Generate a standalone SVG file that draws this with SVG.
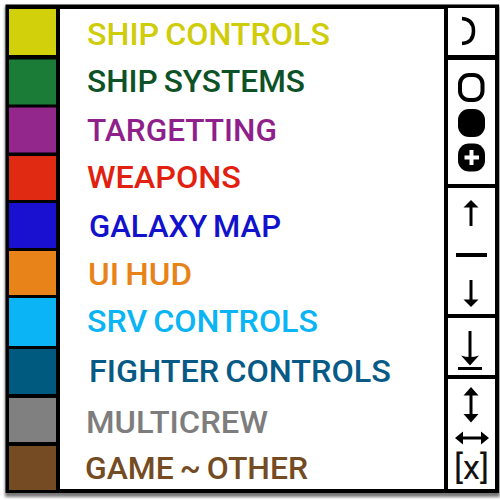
<svg xmlns="http://www.w3.org/2000/svg" width="500" height="500" viewBox="0 0 500 500">
<defs>
<filter id="sh" x="-5%" y="-5%" width="110%" height="110%"><feGaussianBlur stdDeviation="1.500"/></filter>
</defs>
<style>
text{font-family:"Roboto","Liberation Sans",sans-serif;font-size:32px;font-weight:500;word-spacing:-2px}
.i{stroke:#000;stroke-width:3;fill:none}
.h{fill:#000;stroke:none}
</style>
<rect width="500" height="500" fill="#fff"/>
<rect x="5" y="6" width="495" height="491" fill="#777" filter="url(#sh)"/>
<rect x="5.500" y="4.500" width="493.500" height="488.500" fill="#000"/>
<rect x="60" y="9" width="384" height="480" fill="#fff"/>
<g id="swatch-ship-controls"><rect x="9" y="9" width="47" height="46" fill="#d2cf0b"/><text x="87" y="45" fill="#cfcc0a" textLength="243" lengthAdjust="spacingAndGlyphs">SHIP CONTROLS</text></g>
<g id="swatch-ship-systems"><rect x="9" y="59.500" width="47" height="45" fill="#1b7c37"/><text x="87" y="92" fill="#0d5226" textLength="218" lengthAdjust="spacingAndGlyphs">SHIP SYSTEMS</text></g>
<g id="swatch-targetting"><rect x="9" y="107.500" width="47" height="45" fill="#93278c"/><text x="87" y="141" fill="#8f1f8a" textLength="190" lengthAdjust="spacingAndGlyphs">TARGETTING</text></g>
<g id="swatch-weapons"><rect x="9" y="156" width="47" height="44" fill="#e02a12"/><text x="87" y="188" fill="#e2200f" textLength="154" lengthAdjust="spacingAndGlyphs">WEAPONS</text></g>
<g id="swatch-galaxy-map"><rect x="9" y="203" width="47" height="45" fill="#1a10cf"/><text x="89" y="237" fill="#1212cc" textLength="192" lengthAdjust="spacingAndGlyphs">GALAXY MAP</text></g>
<g id="swatch-ui-hud"><rect x="9" y="251" width="47" height="44" fill="#e8831a"/><text x="88" y="285" fill="#e8831a" textLength="104" lengthAdjust="spacingAndGlyphs">UI HUD</text></g>
<g id="swatch-srv-controls"><rect x="9" y="298" width="47" height="48" fill="#0ab4f5"/><text x="87" y="332" fill="#0ab4f5" textLength="231" lengthAdjust="spacingAndGlyphs">SRV CONTROLS</text></g>
<g id="swatch-fighter-controls"><rect x="9" y="349" width="47" height="45" fill="#005a80"/><text x="89" y="382" fill="#065a85" textLength="302" lengthAdjust="spacingAndGlyphs">FIGHTER CONTROLS</text></g>
<g id="swatch-multicrew"><rect x="9" y="398" width="47" height="44" fill="#808080"/><text x="86" y="433" fill="#7d7d7d" textLength="182" lengthAdjust="spacingAndGlyphs">MULTICREW</text></g>
<g id="swatch-game-other"><rect x="9" y="446" width="47" height="44" fill="#744b22"/><text x="85" y="479" fill="#744b22" textLength="223" lengthAdjust="spacingAndGlyphs">GAME ~ OTHER</text></g>

<g id="panel-1"><rect x="448" y="8" width="47" height="47" fill="#fff"/><path class="i" d="M462 18.500 C470 19 473.500 23 473.500 31 C473.500 39 470 43 462 43.500" style="stroke-width:3.500"/></g>
<g id="panel-2"><rect x="448" y="60" width="47" height="124" fill="#fff"/>
<rect class="i" x="460" y="75" width="22.500" height="25" rx="9" style="stroke-width:4"/>
<rect class="h" x="458" y="109" width="27" height="28" rx="11"/>
<rect class="h" x="458" y="143.500" width="27" height="28" rx="11"/>
<path d="M471.500 150v15M464.500 157.500h14.500" stroke="#fff" stroke-width="4" fill="none"/></g>
<g id="panel-3"><rect x="448" y="188" width="47" height="126" fill="#fff"/>
<path class="i" d="M471 206v20"/><path class="h" d="M463.500 207.500l7.500-7.500l7.500 7.500z"/>
<rect class="h" x="456" y="253" width="31" height="4"/>
<path class="i" d="M471 280v21"/><path class="h" d="M463.500 299.500h15l-7.500 7.500z"/></g>
<g id="panel-4"><rect x="448" y="318" width="47" height="57" fill="#fff"/>
<path class="i" d="M470 331v26"/><path class="h" d="M461 355.500q9 3 18 0l-9 10z"/>
<rect class="h" x="458" y="367" width="24" height="3"/></g>
<g id="panel-5"><rect x="448" y="379" width="47" height="110" fill="#fff"/>
<path class="i" d="M471 393v24"/><path class="h" d="M463.500 395.500l7.500-8.500l7.500 8.500zM463.500 414h15l-7.500 8.500z"/>
<path class="i" d="M461 438h22"/><path class="h" d="M463 431.500v13l-8-6.500zM481 431.500v13l8-6.500z"/>
<text x="454" y="479" fill="#111" textLength="35" lengthAdjust="spacingAndGlyphs" style="font-family:'Roboto',sans-serif;font-size:34px;font-weight:400">[x]</text></g>
</svg>
